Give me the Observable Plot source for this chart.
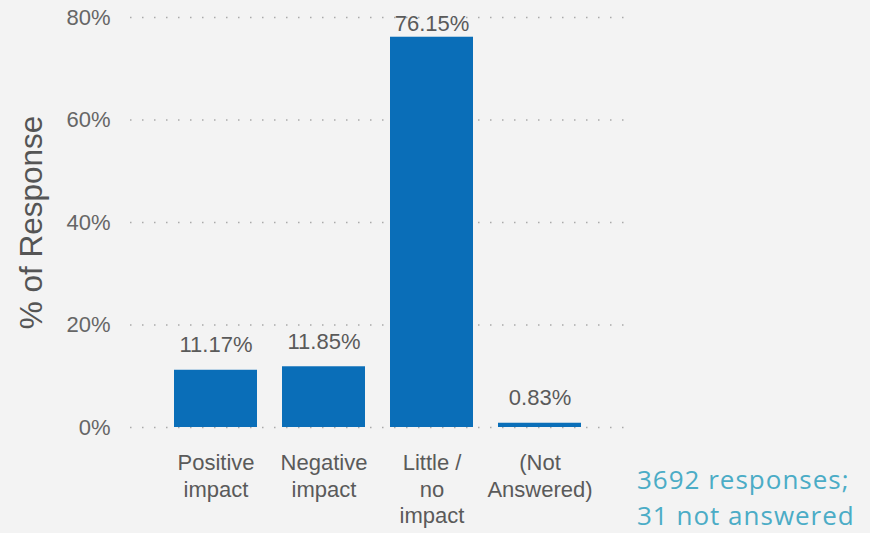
<!DOCTYPE html>
<html>
<head>
<meta charset="utf-8">
<script src="https://cdn.jsdelivr.net/npm/d3@7"></script>
<script src="https://cdn.jsdelivr.net/npm/@observablehq/plot@0.6"></script>
<style>
  html, body { margin: 0; padding: 0; background: #f3f3f3; }
  #wrap { position: relative; width: 870px; height: 533px; overflow: hidden; }
  #note { position: absolute; left: 637px; top: 462px; font-family: "Open Sans", "Noto Sans", sans-serif;
          font-size: 26px; line-height: 35.5px; letter-spacing: 1px; color: #4bacc6; white-space: nowrap; }
</style>
</head>
<body>
<div id="wrap"><div id="note">3692 responses;<br>31 not answered</div></div>
<script>
const categories = ["Positive\nimpact", "Negative\nimpact", "Little /\nno\nimpact", "(Not\nAnswered)"];
const values = [11.17, 11.85, 76.15, 0.83];
const yTicks = [0, 20, 40, 60, 80];
const yTitle = "% of Response";

const data = categories.map((c, i) => ({category: c, value: values[i]}));

const chart = Plot.plot({
  width: 870,
  height: 533,
  marginLeft: 130,
  marginRight: 245,
  marginTop: 17,
  marginBottom: 106,
  style: {background: "#f3f3f3", fontFamily: "'Liberation Sans', Arial, sans-serif", color: "#5a5a5a"},
  x: {domain: categories, paddingInner: 0.234, paddingOuter: 0.4, label: null},
  y: {domain: [0, 80], label: null},
  marks: [
    Plot.gridY(yTicks, {stroke: "#aaa", strokeOpacity: 1, strokeWidth: 1.5, strokeDasharray: "1.5,10.5"}),
    Plot.axisY(yTicks, {tickSize: 0, tickPadding: 20, fontSize: 22, tickFormat: d => d + "%", label: null, fill: "#666"}),
    Plot.axisX({tickSize: 0, tickPadding: 24, fontSize: 22, lineHeight: 1.2, label: null, fill: "#5a5a5a", textAnchor: "middle"}),
    Plot.barY(data, {x: "category", y: "value", fill: "#0a6eb8"}),
    Plot.text(data, {x: "category", y: d => Math.min(d.value + 4.9, 78.8), text: d => d.value.toFixed(2) + "%",
      fontSize: 22, fill: "#5a5a5a"}),
    Plot.text([yTitle], {frameAnchor: "left", textAnchor: "middle", rotate: -90, dx: -99, fontSize: 31.5, fill: "#555"})
  ]
});
document.getElementById("wrap").prepend(chart);
</script>
</body>
</html>
